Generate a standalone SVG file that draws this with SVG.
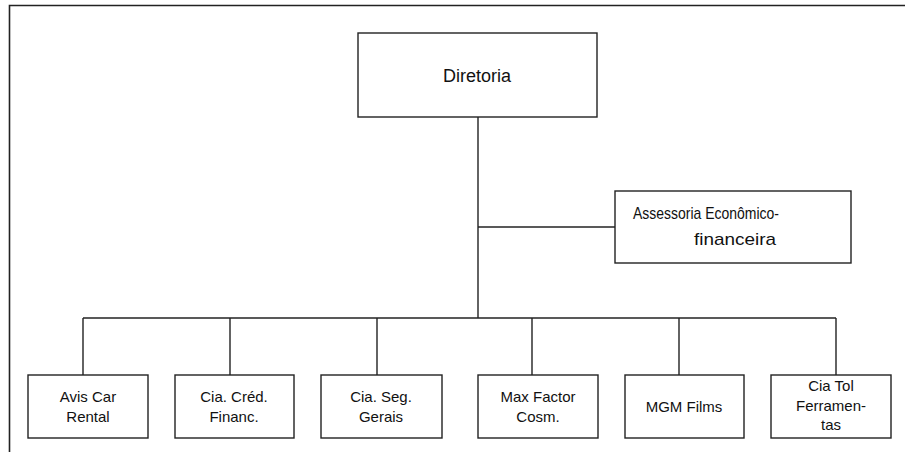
<svg xmlns="http://www.w3.org/2000/svg" width="905" height="452" viewBox="0 0 905 452">
<style>
.box{fill:#fff;stroke:#222;stroke-width:1.4}
.ln{fill:none;stroke:#222;stroke-width:1.4}
.t{font-family:"Liberation Sans",Arial,sans-serif;fill:#111;text-anchor:middle}
.tb{font-size:15px}
.tl{font-size:18px}
.ta{font-size:17px}
</style>
<rect width="905" height="452" fill="#fff"/>
<path d="M9.5,452 V5.5 H905" fill="none" stroke="#222" stroke-width="1.6"/>
<g id="connectors" class="ln">
<path d="M478,117 V318"/>
<path d="M478,227 H615"/>
<path d="M83,318 H836"/>
<path d="M83,318 V375"/>
<path d="M230,318 V375"/>
<path d="M377,318 V375"/>
<path d="M532,318 V375"/>
<path d="M679,318 V375"/>
<path d="M836,318 V375"/>
</g>
<g id="diretoria">
<rect class="box" x="358" y="33" width="239" height="84"/>
<text class="t tl" x="477" y="82">Diretoria</text>
</g>
<g id="assessoria">
<rect class="box" x="615" y="191" width="236" height="72"/>
<text class="t ta" x="706" y="219" textLength="146" lengthAdjust="spacingAndGlyphs">Assessoria Econômico-</text>
<text class="t ta" x="735" y="245" textLength="82" lengthAdjust="spacingAndGlyphs">financeira</text>
</g>
<g id="avis">
<rect class="box" x="28" y="375" width="120" height="63"/>
<text class="t tb" x="88" y="402">Avis Car</text>
<text class="t tb" x="88" y="422">Rental</text>
</g>
<g id="cred">
<rect class="box" x="175" y="375" width="119" height="63"/>
<text class="t tb" x="234" y="402">Cia. Créd.</text>
<text class="t tb" x="234" y="422">Financ.</text>
</g>
<g id="seg">
<rect class="box" x="321" y="375" width="121" height="63"/>
<text class="t tb" x="381" y="402">Cia. Seg.</text>
<text class="t tb" x="381" y="422">Gerais</text>
</g>
<g id="maxfactor">
<rect class="box" x="478" y="375" width="120" height="63"/>
<text class="t tb" x="538" y="402">Max Factor</text>
<text class="t tb" x="538" y="422">Cosm.</text>
</g>
<g id="mgm">
<rect class="box" x="625" y="375" width="119" height="63"/>
<text class="t tb" x="684" y="412">MGM Films</text>
</g>
<g id="ciatol">
<rect class="box" x="771" y="375" width="120" height="63"/>
<text class="t tb" x="831" y="391">Cia Tol</text>
<text class="t tb" x="831" y="411">Ferramen-</text>
<text class="t tb" x="831" y="430">tas</text>
</g>
</svg>
